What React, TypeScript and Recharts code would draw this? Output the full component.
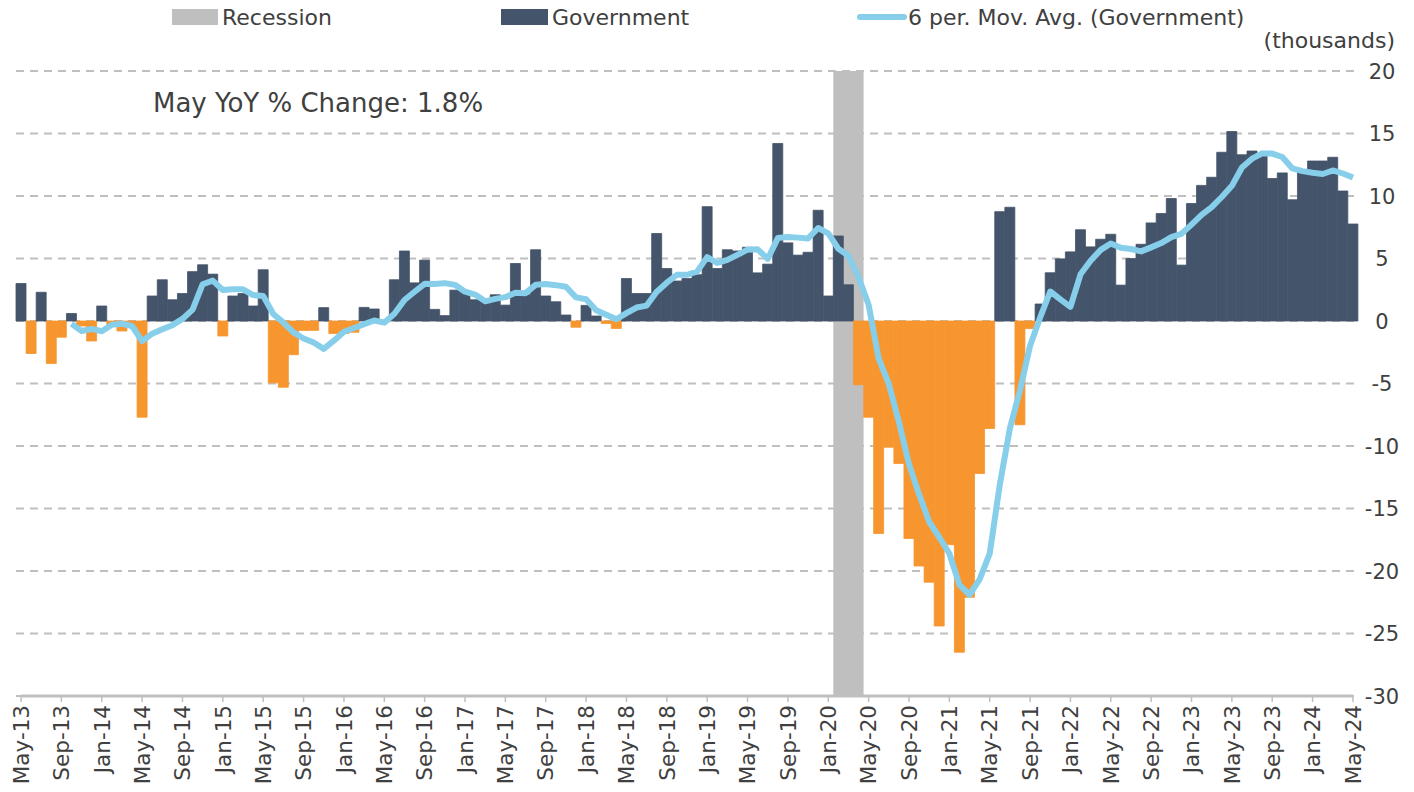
import {
  ComposedChart,
  Bar,
  Line,
  XAxis,
  YAxis,
  CartesianGrid,
  ReferenceArea,
  ReferenceLine,
  Cell,
} from 'recharts';

// monthly categories, May-13 .. May-24
const monthNames = ['Jan', 'Feb', 'Mar', 'Apr', 'May', 'Jun', 'Jul', 'Aug', 'Sep', 'Oct', 'Nov', 'Dec'];
const months = Array.from({ length: 133 }, (_, i) => {
  const m = (4 + i) % 12;
  const y = 13 + Math.floor((4 + i) / 12);
  return `${monthNames[m]}-${y}`;
});

// Government, change in thousands
const government = [
  3.0, -2.6, 2.3, -3.4, -1.3, 0.6, -0.4, -1.6, 1.2, -0.3, -0.8, -0.5,
  -7.7, 2.0, 3.3, 1.7, 2.2, 3.95, 4.5, 3.75, -1.2, 2.0, 2.2, 1.2,
  4.1, -4.95, -5.3, -2.7, -0.75, -0.75, 1.07, -1.0, -1.0, -0.9, 1.09, 0.96,
  0.05, 3.3, 5.6, 3.05, 4.87, 0.93, 0.43, 2.47, 2.3, 1.7, 1.6, 2.1,
  1.27, 4.6, 2.1, 5.7, 2.0, 1.54, 0.48, -0.5, 1.25, 0.4, -0.2, -0.6,
  3.4, 2.2, 2.2, 7.0, 4.2, 3.2, 3.4, 3.7, 9.15, 4.2, 5.7, 5.6,
  5.9, 3.85, 4.55, 14.2, 6.25, 5.27, 5.5, 8.86, 2.0, 6.8, 2.9, -5.1,
  -7.7, -17.0, -10.1, -11.4, -17.4, -19.6, -20.9, -24.4, -17.9, -26.5, -22.1, -12.2,
  -8.6, 8.75, 9.1, -8.3, -0.6, 1.36, 3.86, 4.97, 5.53, 7.3, 5.93, 6.54,
  6.94, 2.87, 5.0, 6.14, 7.85, 8.6, 9.8, 4.47, 9.4, 10.85, 11.5, 13.5,
  15.16, 13.3, 13.6, 13.4, 11.4, 11.85, 9.7, 12.0, 12.8, 12.8, 13.1, 10.4,
  7.76,
];

const yTicks = [-30, -25, -20, -15, -10, -5, 0, 5, 10, 15, 20];
const recession = ['Feb-20', 'Apr-20'];

// Excel's 6 period moving average trendline of the bars
const data = months.map((month, i) => ({
  month,
  gov: government[i],
  ma: i < 5 ? null : government.slice(i - 5, i + 1).reduce((a, b) => a + b, 0) / 6,
}));

const NAVY = '#44546A';
const ORANGE = '#F7962F';
const SKY = '#87CEEB';
const GREY = '#BFBFBF';
const TEXT = '#404040';
const FONT = 'DejaVu Sans';

const XTick = ({ x, y, payload }: any) => (
  <text
    transform={`translate(${x},${y}) rotate(-90)`}
    textAnchor='end'
    dy='0.36em'
    fontSize={21.5}
    fontFamily={FONT}
    fill={TEXT}
  >
    {payload.value}
  </text>
);

const YTick = ({ y, payload }: any) => (
  <text x={1382} y={y} textAnchor='middle' dy='0.36em' fontSize={21} fontFamily={FONT} fill={TEXT}>
    {payload.value}
  </text>
);

export default function App() {
  return (
    <div style={{ position: 'absolute', left: 0, top: 0, width: 1414, height: 792, background: '#fff' }}>
      <ComposedChart
        width={1414}
        height={792}
        data={data}
        margin={{ top: 71, right: 0, bottom: 0, left: 16 }}
        barCategoryGap={0}
        barGap={0}
      >
        <CartesianGrid vertical={false} stroke={GREY} strokeWidth={2} strokeDasharray='8 6' />
        <ReferenceArea x1={recession[0]} x2={recession[1]} y1={-30} y2={20} fill={GREY} fillOpacity={1} stroke='none' />
        <XAxis
          dataKey='month'
          height={96}
          interval={3}
          axisLine={false}
          tickLine={{ stroke: GREY, strokeWidth: 1.5 }}
          tickSize={6}
          tickMargin={3}
          tick={<XTick />}
        />
        <YAxis
          orientation='right'
          width={56}
          domain={[-30, 20]}
          ticks={yTicks}
          axisLine={false}
          tickLine={false}
          tick={<YTick />}
        />
        <Bar dataKey='gov' isAnimationActive={false}>
          {data.map((d, i) => {
            const c = d.gov < 0 ? ORANGE : NAVY;
            return <Cell key={i} fill={c} stroke={c} strokeWidth={0.8} />;
          })}
        </Bar>
        <ReferenceLine
          segment={[
            { x: months[0], y: -30 },
            { x: months[months.length - 1], y: -30 },
          ]}
          stroke={GREY}
          strokeWidth={3}
        />
        <Line
          dataKey='ma'
          type='linear'
          stroke={SKY}
          strokeWidth={6}
          dot={false}
          strokeLinejoin='round'
          isAnimationActive={false}
        />
      </ComposedChart>

      <svg
        width={1414}
        height={792}
        style={{ position: 'absolute', left: 0, top: 0, pointerEvents: 'none' }}
        fontFamily={FONT}
        fill={TEXT}
      >
        <rect x={172} y={9} width={46} height={16} fill={GREY} />
        <text x={222} y={25} fontSize={22}>Recession</text>
        <rect x={501} y={9} width={47} height={16} fill={NAVY} />
        <text x={552} y={25} fontSize={22}>Government</text>
        <line x1={860} x2={904} y1={17} y2={17} stroke={SKY} strokeWidth={6} strokeLinecap='round' />
        <text x={908} y={25} fontSize={22}>6 per. Mov. Avg. (Government)</text>
        <text x={1395} y={48} fontSize={22} textAnchor='end'>(thousands)</text>
        <text x={153} y={112} fontSize={26}>May YoY % Change: 1.8%</text>
      </svg>
    </div>
  );
}
